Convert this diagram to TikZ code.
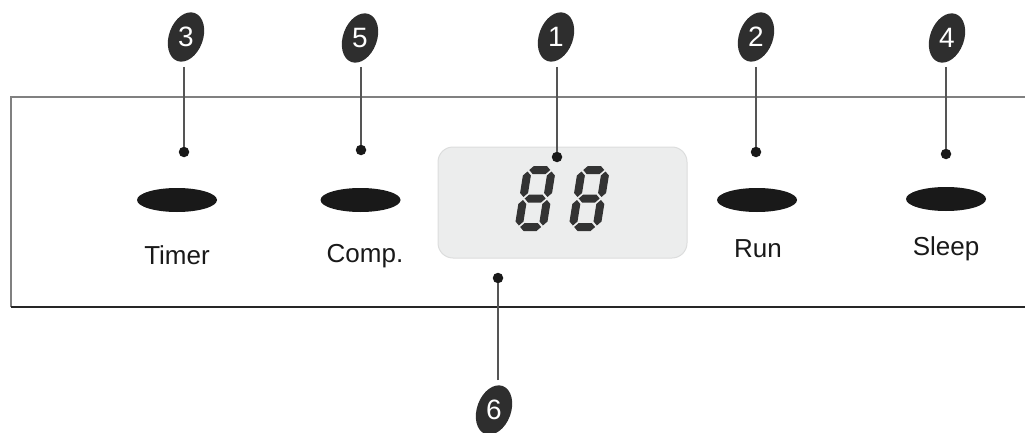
\documentclass[tikz,border=0pt]{standalone}
\usepackage{fontspec}
\setmainfont{Liberation Sans}
\usetikzlibrary{shapes.geometric}
\definecolor{badgecol}{HTML}{2E2E2E}
\definecolor{segcol}{HTML}{333333}
\definecolor{dispfill}{HTML}{ECEDED}
\definecolor{displine}{HTML}{DCDDDD}
\definecolor{leadcol}{HTML}{555555}
\tikzset{
  badge/.style={ellipse, fill=badgecol, inner sep=0pt, minimum width=34pt, minimum height=51pt, rotate=-20},
  badgenum/.style={text=white, font=\fontsize{28}{28}\selectfont, inner sep=0pt},
  dotnode/.style={circle, fill=black!90, inner sep=0pt, minimum size=10.5pt},
  leader/.style={draw=leadcol, line width=1.3pt},
  button/.style={ellipse, fill=black!90, inner sep=0pt, minimum width=80pt, minimum height=24pt},
  btnlabel/.style={font=\fontsize{26}{26}\selectfont, text=black!90, anchor=base, inner sep=0pt},
  seg/.style={fill=segcol}
}
\newcommand\hseg[3]{% x0 x1 yc
  \fill[seg] (#1,#3) -- ({#1+4},{#3+4}) -- ({#2-4},{#3+4}) -- (#2,#3) -- ({#2-4},{#3-4}) -- ({#1+4},{#3-4}) -- cycle;}
\newcommand\vseg[3]{% xc y0 y1
  \fill[seg] (#1,#2) -- ({#1+4},{#2+4}) -- ({#1+4},{#3-4}) -- (#1,#3) -- ({#1-4},{#3-4}) -- ({#1-4},{#2+4}) -- cycle;}
\newcommand\segeight[2]{%
  \begin{scope}[shift={(#1,#2)}, xslant=0.16]
    \hseg{5.5}{26.5}{61}
    \hseg{5.5}{26.5}{32.5}
    \hseg{5.5}{26.5}{4}
    \vseg{4}{34}{59.5}
    \vseg{28}{34}{59.5}
    \vseg{4}{5.5}{31}
    \vseg{28}{5.5}{31}
  \end{scope}}
\begin{document}
\begin{tikzpicture}[x=1pt,y=1pt]
\useasboundingbox (0,0) rectangle (1025,432);
% panel
\draw[draw=black!50, line width=1.5pt] (1025,335) -- (11,335) -- (11,125);
\draw[draw=black!85, line width=1.5pt] (11,125) -- (1025,125);
% display
\node[draw=displine, fill=dispfill, line width=1pt, rounded corners=15pt, minimum width=249pt, minimum height=111pt, inner sep=0pt] (disp) at (562.5,229.5) {};
\segeight{514}{201}
\segeight{568}{201}
% buttons
\node[button] (btimer) at (177,232) {};
\node[button] (bcomp) at (360.5,232) {};
\node[button] (brun) at (757,232) {};
\node[button] (bsleep) at (946,233) {};
\node[btnlabel] (ltimer) at (177,168) {Timer};
\node[btnlabel] (lcomp) at (365,170) {Comp.};
\node[btnlabel] (lrun) at (758,175) {Run};
\node[btnlabel] (lsleep) at (946,177) {Sleep};
% badges
\node[badge] (b3) at (186,395) {};
\node[badgenum] (n3) at (b3) {3};
\node[badge] (b5) at (360,394) {};
\node[badgenum] (n5) at (b5) {5};
\node[badge] (b1) at (556,395) {};
\node[badgenum] (n1) at (b1) {1};
\node[badge] (b2) at (756,395) {};
\node[badgenum] (n2) at (b2) {2};
\node[badge] (b4) at (947,394) {};
\node[badgenum] (n4) at (b4) {4};
\node[badge] (b6) at (494,22) {};
\node[badgenum] (n6) at (b6) {6};
% dots
\node[dotnode] (d3) at (184,280) {};
\node[dotnode] (d5) at (361,282) {};
\node[dotnode] (d1) at (557,275) {};
\node[dotnode] (d2) at (756,280) {};
\node[dotnode] (d4) at (946,278) {};
\node[dotnode] (d6) at (498,154) {};
% leader ends
\coordinate (t3) at (184,365);
\coordinate (t5) at (361,365);
\coordinate (t1) at (557,365);
\coordinate (t2) at (756,365);
\coordinate (t4) at (946,365);
\coordinate (t6) at (498,52);
\draw[leader] (t3) -- (d3);
\draw[leader] (t5) -- (d5);
\draw[leader] (t1) -- (d1);
\draw[leader] (t2) -- (d2);
\draw[leader] (t4) -- (d4);
\draw[leader] (t6) -- (d6);
\end{tikzpicture}
\end{document}
